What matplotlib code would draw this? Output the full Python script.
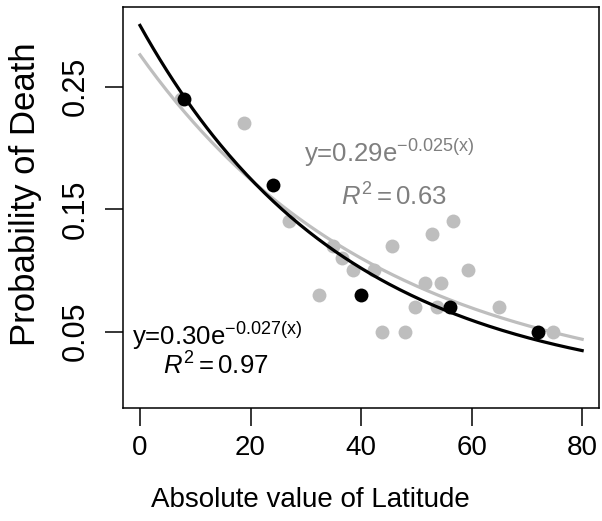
import numpy as np
import matplotlib.pyplot as plt

plt.rcParams['font.family'] = 'Liberation Sans'
plt.rcParams['mathtext.fontset'] = 'custom'
plt.rcParams['mathtext.rm'] = 'Liberation Sans'
plt.rcParams['mathtext.it'] = 'Liberation Sans:italic'

# every site (grey) and the binned means (black)
lat_all = [7.5, 18.8, 27.0, 32.3, 35.0, 36.5, 38.5, 42.3, 43.8, 45.6,
           47.9, 49.8, 51.5, 52.9, 53.7, 54.5, 56.6, 59.3, 65.0, 74.8]
death_all = [0.24, 0.22, 0.14, 0.08, 0.12, 0.11, 0.10, 0.10, 0.05, 0.12,
             0.05, 0.07, 0.09, 0.13, 0.07, 0.09, 0.14, 0.10, 0.07, 0.05]

lat_bin = [8, 24, 40, 56, 72]
death_bin = [0.24, 0.17, 0.08, 0.07, 0.05]

# exponential fits a*exp(-b*x), as drawn
a_all, b_all = 0.276, 0.023
a_bin, b_bin = 0.30, 0.027

grey = '#bebebe'
dark_grey = '#7f7f7f'

fig = plt.figure(figsize=(6.02, 5.21), dpi=100)
ax = fig.add_axes([0.2038, 0.2175, 0.7917, 0.769])

x = np.linspace(0, 80, 200)

ax.plot(lat_all, death_all, 'o', color=grey, ms=10, mec='none', zorder=2)
ax.plot(x, a_all * np.exp(-b_all * x), color=grey, lw=2.3, zorder=3)
ax.plot(x, a_bin * np.exp(-b_bin * x), color='k', lw=2.3, zorder=4)
ax.plot(lat_bin, death_bin, 'o', color='k', ms=10, mec='none', zorder=5)

ax.text(29.6, 0.1888, r'y=0.29e$^{-0.025\mathrm{(x)}}$', color=dark_grey,
        fontsize=18.5, ha='left', va='baseline')
ax.text(36.4, 0.1529, r'$R^2 = 0.63$', color=dark_grey,
        fontsize=18.5, ha='left', va='baseline')
ax.text(-1.5, 0.0394, r'y=0.30e$^{-0.027\mathrm{(x)}}$', color='k',
        fontsize=18.5, ha='left', va='baseline')
ax.text(4.2, 0.0149, r'$R^2 = 0.97$', color='k',
        fontsize=18.5, ha='left', va='baseline')

ax.set_xlim(-3.13, 83.1)
ax.set_ylim(-0.012, 0.315)
ax.set_xticks([0, 20, 40, 60, 80])
ax.set_yticks([0.05, 0.15, 0.25])
ax.set_yticklabels(['0.05', '0.15', '0.25'], rotation=90, va='center')

for s in ax.spines.values():
    s.set_linewidth(1.1)
ax.tick_params(axis='both', length=13, width=1.1)
ax.tick_params(axis='x', labelsize=20, pad=7)
ax.tick_params(axis='y', labelsize=22, pad=10)

ax.set_xlabel('Absolute value of Latitude', fontsize=20)
ax.xaxis.set_label_coords(0.393, -0.23)
ax.xaxis.label.set_va('center')
ax.set_ylabel('Probability of Death', fontsize=25)
ax.yaxis.set_label_coords(-0.203, 0.533)
ax.yaxis.label.set_va('center')

plt.savefig('out.png', dpi=100)
